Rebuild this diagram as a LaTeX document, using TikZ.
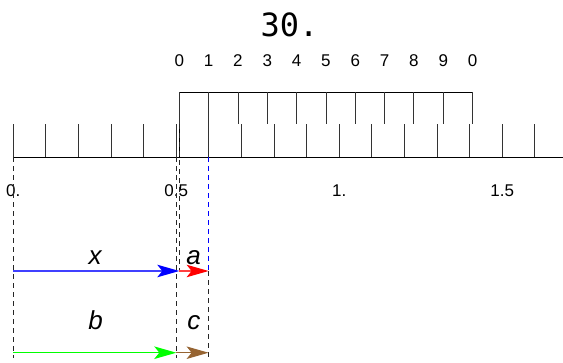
\documentclass[tikz,border=0pt]{standalone}
\usepackage{fontspec}
\setmainfont{Liberation Sans}
\newfontfamily\monofnt{DejaVu Sans Mono}
\usetikzlibrary{arrows.meta}
\definecolor{brownarr}{RGB}{150,100,50}
\tikzset{
  tickline/.style={black!80, line width=0.9pt},
  scaleline/.style={black, line width=0.9pt},
  guide/.style={black!85, line width=0.8pt, dash pattern=on 5pt off 4pt},
  blueguide/.style={blue, line width=0.8pt, dash pattern=on 5pt off 4pt},
  vec/.style={line width=1.2pt, -{Stealth[length=22pt,width=12.5pt,inset=5pt,color=#1]}},
  numlbl/.style={anchor=base, inner sep=0pt, font=\fontsize{17}{20}\selectfont},
  varlbl/.style={anchor=base, inner sep=0pt, font=\fontsize{26}{30}\selectfont\itshape},
}
\begin{document}
\begin{tikzpicture}[x=1pt,y=-1pt]
\useasboundingbox (0,0) rectangle (563,362);
% title
\node[anchor=base, inner sep=0pt, font=\monofnt\fontsize{32}{36}\selectfont] (title) at (289.5,36.7) {30.};
% main scale
\draw[scaleline] (13.3,157) -- (563,157);
\foreach \k in {0,...,16} {
  \draw[tickline] ({13.3+32.6*\k},124) -- ({13.3+32.6*\k},157);
}
% vernier
\draw[scaleline] (179.3,157) -- (179.3,92) -- (472.6,92);
\foreach \k [count=\i from 0] in {0,1,2,3,4,5,6,7,8,9,0} {
  \draw[tickline] ({179.3+29.33*\i},92) -- ({179.3+29.33*\i},124);
  \node[numlbl] (v\i) at ({179.3+29.33*\i},66) {\k};
}
% scale labels
\node[numlbl] (l0) at (13.3,196.5) {0.};
\node[numlbl] (l05) at (176.3,196.5) {0.5};
\node[numlbl] (l1) at (339.3,196.5) {1.};
\node[numlbl] (l15) at (502.3,196.5) {1.5};
% guide lines
\coordinate (g0t) at (13.3,157);   \coordinate (g0b) at (13.3,358);
\coordinate (g5t) at (176.3,157);  \coordinate (g5b) at (176.3,358);
\coordinate (gvt) at (179.3,124);  \coordinate (gvb) at (179.3,271);
\coordinate (g6t) at (208.6,157);  \coordinate (g6m) at (208.6,271); \coordinate (g6b) at (208.6,358);
\draw[guide] (g0t) -- (g0b);
\draw[guide] (g5t) -- (g5b);
\draw[guide] (gvt) -- (gvb);
\draw[blueguide] (g6t) -- (g6m);
\draw[guide] (g6m) -- (g6b);
% arrows
\coordinate (ax0) at (13.3,271); \coordinate (ax1) at (179.3,271); \coordinate (ax2) at (208.6,271);
\coordinate (bx0) at (13.3,352.7); \coordinate (bx1) at (176.3,352.7); \coordinate (bx2) at (208.6,352.7);
\draw[vec=blue, blue!75] (ax0) -- (ax1);
\draw[vec=red, red!75] (ax1) -- (ax2);
\draw[vec=green, green] (bx0) -- (bx1);
\draw[vec=brownarr, brownarr] (bx1) -- (bx2);
% variable labels
\node[varlbl] (lx) at (95,264) {x};
\node[varlbl] (la) at (193.5,264) {a};
\node[varlbl] (lb) at (95.5,329.3) {b};
\node[varlbl] (lc) at (193.8,329.3) {c};
\end{tikzpicture}
\end{document}
